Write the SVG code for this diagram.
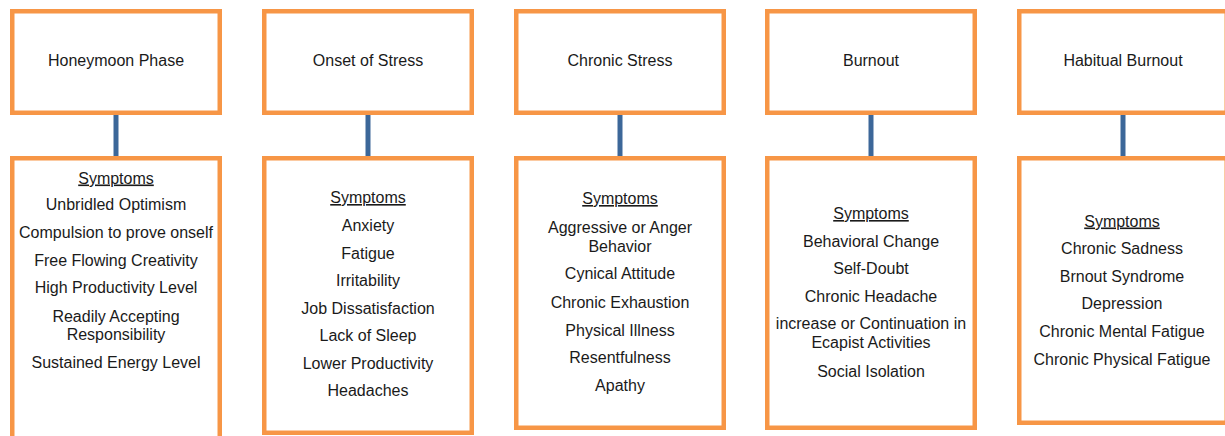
<svg xmlns="http://www.w3.org/2000/svg" width="1225" height="436" viewBox="0 0 1225 436">
<style>
.box{fill:#fff;stroke:#F79646;stroke-width:4.5}
.con{stroke:#3C6799;stroke-width:5}
text{font-family:"Liberation Sans",Arial,sans-serif;font-size:16px;fill:#1a1a1a;text-anchor:middle}
.h{text-decoration:underline}
</style>
<rect width="1225" height="436" fill="#fff"/>
<g id="connectors">
<line class="con" x1="116" y1="115" x2="116" y2="157"/>
<line class="con" x1="368" y1="115" x2="368" y2="157"/>
<line class="con" x1="620" y1="115" x2="620" y2="157"/>
<line class="con" x1="871" y1="115" x2="871" y2="157"/>
<line class="con" x1="1123" y1="115" x2="1123" y2="157"/>
</g>
<g id="phase1"><rect class="box" x="12.25" y="11.25" width="207.5" height="101.5"/><text x="116" y="65.5">Honeymoon Phase</text></g>
<g id="phase2"><rect class="box" x="264.25" y="11.25" width="207.5" height="101.5"/><text x="368" y="65.5">Onset of Stress</text></g>
<g id="phase3"><rect class="box" x="516.25" y="11.25" width="207.5" height="101.5"/><text x="620" y="65.5">Chronic Stress</text></g>
<g id="phase4"><rect class="box" x="767.25" y="11.25" width="207.5" height="101.5"/><text x="871" y="65.5">Burnout</text></g>
<g id="phase5"><rect class="box" x="1019.25" y="11.25" width="207.5" height="101.5"/><text x="1123" y="65.5">Habitual Burnout</text></g>
<g id="symptoms1"><rect class="box" x="12.25" y="158.25" width="207.5" height="290"/>
<text x="116" y="183.5" class="h">Symptoms</text>
<text x="116" y="210">Unbridled Optimism</text>
<text x="116" y="238">Compulsion to prove onself</text>
<text x="116" y="265.5">Free Flowing Creativity</text>
<text x="116" y="292.5">High Productivity Level</text>
<text x="116" y="321.5">Readily Accepting</text>
<text x="116" y="340">Responsibility</text>
<text x="116" y="368">Sustained Energy Level</text>
</g>
<g id="symptoms2"><rect class="box" x="264.25" y="158.25" width="207.5" height="274.5"/>
<text x="368" y="203" class="h">Symptoms</text>
<text x="368" y="231">Anxiety</text>
<text x="368" y="258.5">Fatigue</text>
<text x="368" y="286">Irritability</text>
<text x="368" y="313.5">Job Dissatisfaction</text>
<text x="368" y="341">Lack of Sleep</text>
<text x="368" y="368.5">Lower Productivity</text>
<text x="368" y="396">Headaches</text>
</g>
<g id="symptoms3"><rect class="box" x="516.25" y="158.25" width="207.5" height="269.5"/>
<text x="620" y="204" class="h">Symptoms</text>
<text x="620" y="233">Aggressive or Anger</text>
<text x="620" y="251.5">Behavior</text>
<text x="620" y="279">Cynical Attitude</text>
<text x="620" y="307.5">Chronic Exhaustion</text>
<text x="620" y="335.5">Physical Illness</text>
<text x="620" y="363">Resentfulness</text>
<text x="620" y="390.5">Apathy</text>
</g>
<g id="symptoms4"><rect class="box" x="767.25" y="158.25" width="207.5" height="269.5"/>
<text x="871" y="219" class="h">Symptoms</text>
<text x="871" y="246.5">Behavioral Change</text>
<text x="871" y="274">Self-Doubt</text>
<text x="871" y="301.5">Chronic Headache</text>
<text x="871" y="329">increase or Continuation in</text>
<text x="871" y="348">Ecapist Activities</text>
<text x="871" y="376.5">Social Isolation</text>
</g>
<g id="symptoms5"><rect class="box" x="1019.25" y="158.25" width="207.5" height="264.5"/>
<text x="1122" y="226.5" class="h">Symptoms</text>
<text x="1122" y="254">Chronic Sadness</text>
<text x="1122" y="281.5">Brnout Syndrome</text>
<text x="1122" y="309">Depression</text>
<text x="1122" y="336.5">Chronic Mental Fatigue</text>
<text x="1122" y="365">Chronic Physical Fatigue</text>
</g>
</svg>
